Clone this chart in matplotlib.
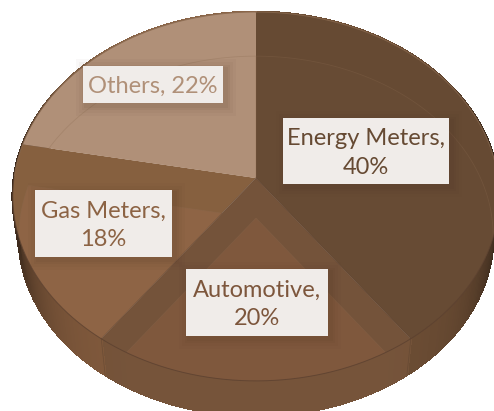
import numpy as np
import matplotlib
matplotlib.use("Agg")
import matplotlib.pyplot as plt
from matplotlib.collections import PolyCollection
from matplotlib.patches import Rectangle, Polygon

categories = ["Energy Meters", "Automotive", "Gas Meters", "Others"]
values = [40, 20, 18, 22]
labels = ["Energy Meters,\n40%", "Automotive,\n20%", "Gas Meters,\n18%", "Others, 22%"]
top_colors = ["#664A33", "#74533A", "#86603F", "#B09078"]
inner_colors = ["#674B34", "#7F583D", "#8E6445", "#B09078"]
side_colors = ["#6C4D34", "#76543A", "#80593C", "#8A6548"]
text_colors = ["#664A33", "#7D563C", "#8C6344", "#B09078"]
boxes = [(283, 118, 449, 184), (186, 269, 328, 336), (35, 190, 172, 257), (83, 66, 223, 103)]

CX, CY, A, B, K = 256, 178, 242, 182.6, 0.1
SCALE, OFF = 0.975, 40


def proj(theta, scale=1.0, off=0.0, r=1.0):
    X, Y = r * np.sin(theta), r * np.cos(theta)
    d = 1 + K * Y
    return CX + scale * A * X / d, CY + off - scale * B * Y / d


def wedge(t0, t1, scale=1.0, off=0.0):
    th = np.linspace(t0, t1, 120)
    x, y = proj(th, scale, off)
    ax_, ay_ = proj(0.0, scale, off, r=0.0)
    return np.column_stack([np.r_[ax_, x], np.r_[ay_, y]])


fig = plt.figure(figsize=(4.94, 4.11), dpi=100)
ax = fig.add_axes([0, 0, 1, 1])
ax.set_xlim(0, 494)
ax.set_ylim(411, 0)
ax.axis("off")

fr = np.cumsum([0] + values) / sum(values) * 2 * np.pi

# Side wall
for i in range(len(values)):
    th = np.linspace(fr[i], fr[i + 1], 160)
    quads, cols = [], []
    base = np.array(matplotlib.colors.to_rgb(side_colors[i]))
    for a, b in zip(th[:-1], th[1:]):
        xa, ya = proj(a)
        xb, yb = proj(b)
        xc, yc = proj(b, SCALE, OFF)
        xd, yd = proj(a, SCALE, OFF)
        quads.append([(xa, ya), (xb, yb), (xc, yc), (xd, yd)])
        shade = 1 - 0.55 * abs(np.sin((a + b) / 2)) ** 7
        cols.append(base * shade)
    ax.add_collection(PolyCollection(quads, facecolors=cols, edgecolors=cols, linewidths=1.2,
                                     antialiaseds=False, zorder=1))

# Top face, with the bottom face showing through each slice
for i in range(len(values)):
    p = Polygon(wedge(fr[i], fr[i + 1]), closed=True, facecolor=top_colors[i], edgecolor="none", zorder=3)
    ax.add_patch(p)
    clip = Polygon(wedge(fr[i], fr[i + 1]), closed=True, transform=ax.transData)
    q = Polygon(wedge(fr[i], fr[i + 1], SCALE, OFF), closed=True, facecolor=inner_colors[i],
                edgecolor="none", zorder=4)
    ax.add_patch(q)
    q.set_clip_path(clip)
    ring = Polygon(wedge(fr[i], fr[i + 1], SCALE, OFF), closed=True, fill=False,
                   edgecolor="#8A6A50", lw=0.6, alpha=0.3, zorder=4.5)
    ax.add_patch(ring)
    ring.set_clip_path(clip)

# Darker corner strips on the wall where slices meet
for edge in (fr[1], fr[2]):
    x0, y0 = proj(edge)
    x1, y1 = proj(edge, SCALE, OFF)
    ax.plot([x0, x1], [y0, y1], color="#5E4430", lw=0.5, alpha=0.6, zorder=2)

# Rim and slice edges
th_all = np.linspace(0, 2 * np.pi, 400)
xr, yr = proj(th_all)
front = np.cos(th_all) < 0
xf, yf = xr.copy(), yr.copy()
xf[~front] = np.nan
ax.plot(xf, yf, color="#5C4130", lw=0.7, alpha=0.8, zorder=5)
xb_, yb_ = xr.copy(), yr.copy()
xb_[front] = np.nan
ax.plot(xb_, yb_, color="#8A6A50", lw=0.7, alpha=0.8, zorder=5)
for edge in (fr[1], fr[2]):
    xe, ye = proj(edge)
    ax0, ay0 = proj(0.0, r=0.0)
    ax.plot([ax0, xe], [ay0, ye], color="#5C4130", lw=0.5, alpha=0.55, zorder=5)

# Labels with soft shadow
for (x0, y0, x1, y1), lab, tc in zip(boxes, labels, text_colors):
    for grow, alpha in ((10, 0.03), (7, 0.04), (4, 0.05), (2, 0.06)):
        ax.add_patch(Rectangle((x0 - grow + 3, y0 - grow + 3), x1 - x0 + 2 * grow, y1 - y0 + 2 * grow,
                               facecolor="#4A3020", edgecolor="none", alpha=alpha, zorder=6))
    ax.add_patch(Rectangle((x0, y0), x1 - x0, y1 - y0, facecolor="#F0ECE9", edgecolor="none", zorder=7))
    ax.text((x0 + x1) / 2, (y0 + y1) / 2 + 2, lab, ha="center", va="center", color=tc,
            family="Lato", fontsize=17, linespacing=1.45, zorder=8)

fig.savefig("out.png", dpi=100, facecolor="white")
